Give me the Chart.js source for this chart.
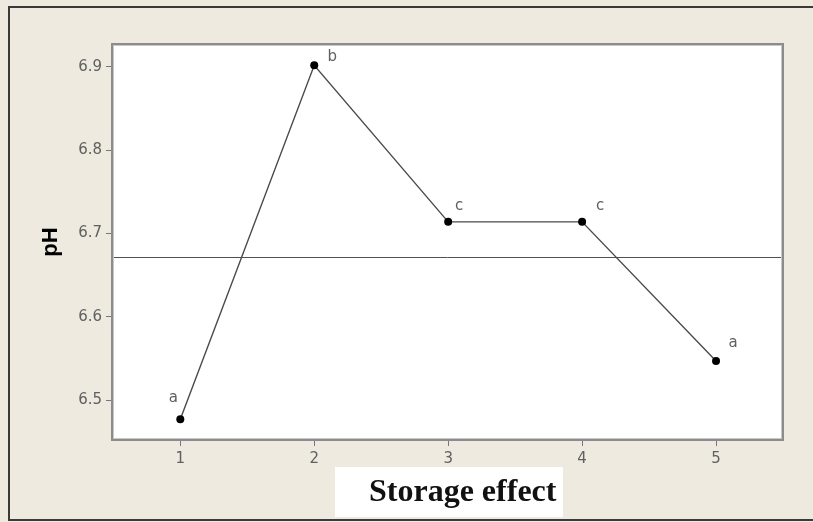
<!DOCTYPE html>
<html>
<head>
<meta charset="utf-8">
<script src="https://cdn.jsdelivr.net/npm/chart.js@4.4.1/dist/chart.umd.min.js"></script>
<style>
  html, body { margin: 0; padding: 0; background: #EEEAE0; }
  #wrap { width: 813px; height: 522px; position: relative; }
</style>
</head>
<body>
<div id="wrap"><canvas id="c" width="813" height="522"></canvas></div>
<script>
// Storage levels on the x axis and mean pH at each level
const STORAGE = [1, 2, 3, 4, 5];
const PH_MEANS = [6.477, 6.902, 6.714, 6.714, 6.547];
// Letter groupings printed beside each mean
const GROUP_LABELS = ['a', 'b', 'c', 'c', 'a'];
// Axis ticks
const Y_TICKS = [6.5, 6.6, 6.7, 6.8, 6.9];
const X_TICKS = [1, 2, 3, 4, 5];
const X_TITLE = 'Storage effect';
const Y_TITLE = 'pH';

// Grand mean reference line
const GRAND_MEAN = PH_MEANS.reduce((s, v) => s + v, 0) / PH_MEANS.length;

const BG = '#EEEAE0';
const TEXT_GREY = '#606060';

// offsets of the group letters from their points (px)
const LABEL_OFFSETS = [[-7, -21], [18, -8], [11, -16], [18, -16], [17, -18]];

const framePlugin = {
  id: 'frame',
  beforeDraw(chart) {
    const { ctx, chartArea: a } = chart;
    ctx.save();
    ctx.fillStyle = BG;
    ctx.fillRect(0, 0, chart.width, chart.height);
    // outer frame
    ctx.strokeStyle = '#3a3a3a';
    ctx.lineWidth = 2;
    ctx.beginPath();
    ctx.moveTo(chart.width + 2, 7);
    ctx.lineTo(9, 7);
    ctx.lineTo(9, 520);
    ctx.lineTo(chart.width + 2, 520);
    ctx.stroke();
    // white plotting region
    ctx.fillStyle = '#ffffff';
    ctx.fillRect(a.left, a.top, a.right - a.left, a.bottom - a.top);
    ctx.restore();
  },
  beforeDatasetsDraw(chart) {
    const { ctx, chartArea: a, scales } = chart;
    const y = scales.y.getPixelForValue(GRAND_MEAN);
    ctx.save();
    ctx.strokeStyle = '#505050';
    ctx.lineWidth = 1;
    ctx.beginPath();
    ctx.moveTo(a.left, Math.round(y) - 0.5);
    ctx.lineTo(a.right, Math.round(y) - 0.5);
    ctx.stroke();
    ctx.restore();
  },
  afterDraw(chart) {
    const { ctx, chartArea: a, scales } = chart;
    ctx.save();
    // plot border
    ctx.strokeStyle = '#8c8c8c';
    ctx.lineWidth = 2;
    ctx.strokeRect(a.left, a.top, a.right - a.left, a.bottom - a.top);
    ctx.strokeStyle = '#c8c8c8';
    ctx.lineWidth = 1;
    ctx.strokeRect(a.left + 1.5, a.top + 1.5, a.right - a.left - 3, a.bottom - a.top - 3);

    // group letters
    ctx.fillStyle = TEXT_GREY;
    ctx.font = '15px "DejaVu Sans"';
    ctx.textAlign = 'center';
    ctx.textBaseline = 'middle';
    STORAGE.forEach((s, i) => {
      const px = scales.x.getPixelForValue(s);
      const py = scales.y.getPixelForValue(PH_MEANS[i]);
      ctx.fillText(GROUP_LABELS[i], px + LABEL_OFFSETS[i][0], py + LABEL_OFFSETS[i][1]);
    });

    // y title
    ctx.fillStyle = '#000000';
    ctx.font = 'bold 22px "Liberation Sans"';
    ctx.translate(51, (a.top + a.bottom) / 2);
    ctx.rotate(-Math.PI / 2);
    ctx.textAlign = 'center';
    ctx.textBaseline = 'middle';
    ctx.fillText(Y_TITLE, 0, 0);
    ctx.setTransform(1, 0, 0, 1, 0, 0);

    // x title in white box
    ctx.fillStyle = '#ffffff';
    ctx.fillRect(335, 467, 228, 50);
    ctx.fillStyle = '#111111';
    ctx.font = 'bold 32px "Liberation Serif"';
    ctx.textAlign = 'left';
    ctx.textBaseline = 'alphabetic';
    ctx.fillText(X_TITLE, 369, 501);
    ctx.restore();
  }
};

new Chart(document.getElementById('c'), {
  type: 'line',
  data: {
    datasets: [{
      data: STORAGE.map((s, i) => ({ x: s, y: PH_MEANS[i] })),
      borderColor: '#4a4a4a',
      borderWidth: 1.4,
      pointRadius: 4,
      pointBackgroundColor: '#000000',
      pointBorderColor: '#000000',
      pointBorderWidth: 0,
      tension: 0
    }]
  },
  options: {
    responsive: false,
    animation: false,
    devicePixelRatio: 1,
    layout: { padding: { left: 0, top: 44, right: 30, bottom: 0 } },
    plugins: { legend: { display: false }, tooltip: { enabled: false } },
    scales: {
      x: {
        type: 'linear',
        min: 0.49,
        max: 5.5,
        afterBuildTicks: ax => { ax.ticks = X_TICKS.map(v => ({ value: v })); },
        afterFit: ax => { ax.height = 82; },
        border: { display: false },
        grid: { drawOnChartArea: false, drawTicks: true, tickLength: 6, tickColor: '#777777', lineWidth: 1 },
        ticks: {
          color: TEXT_GREY,
          font: { family: 'DejaVu Sans', size: 15 },
          padding: 4,
          maxRotation: 0,
          callback: v => String(v)
        }
      },
      y: {
        min: 6.452,
        max: 6.9276,
        afterBuildTicks: ax => { ax.ticks = Y_TICKS.map(v => ({ value: v })); },
        afterFit: ax => { ax.width = 112; },
        border: { display: false },
        grid: { drawOnChartArea: false, drawTicks: true, tickLength: 6, tickColor: '#777777', lineWidth: 1 },
        ticks: {
          color: TEXT_GREY,
          font: { family: 'DejaVu Sans', size: 15 },
          padding: 4,
          callback: v => Number(v).toFixed(1)
        }
      }
    }
  },
  plugins: [framePlugin]
});
</script>
</body>
</html>
